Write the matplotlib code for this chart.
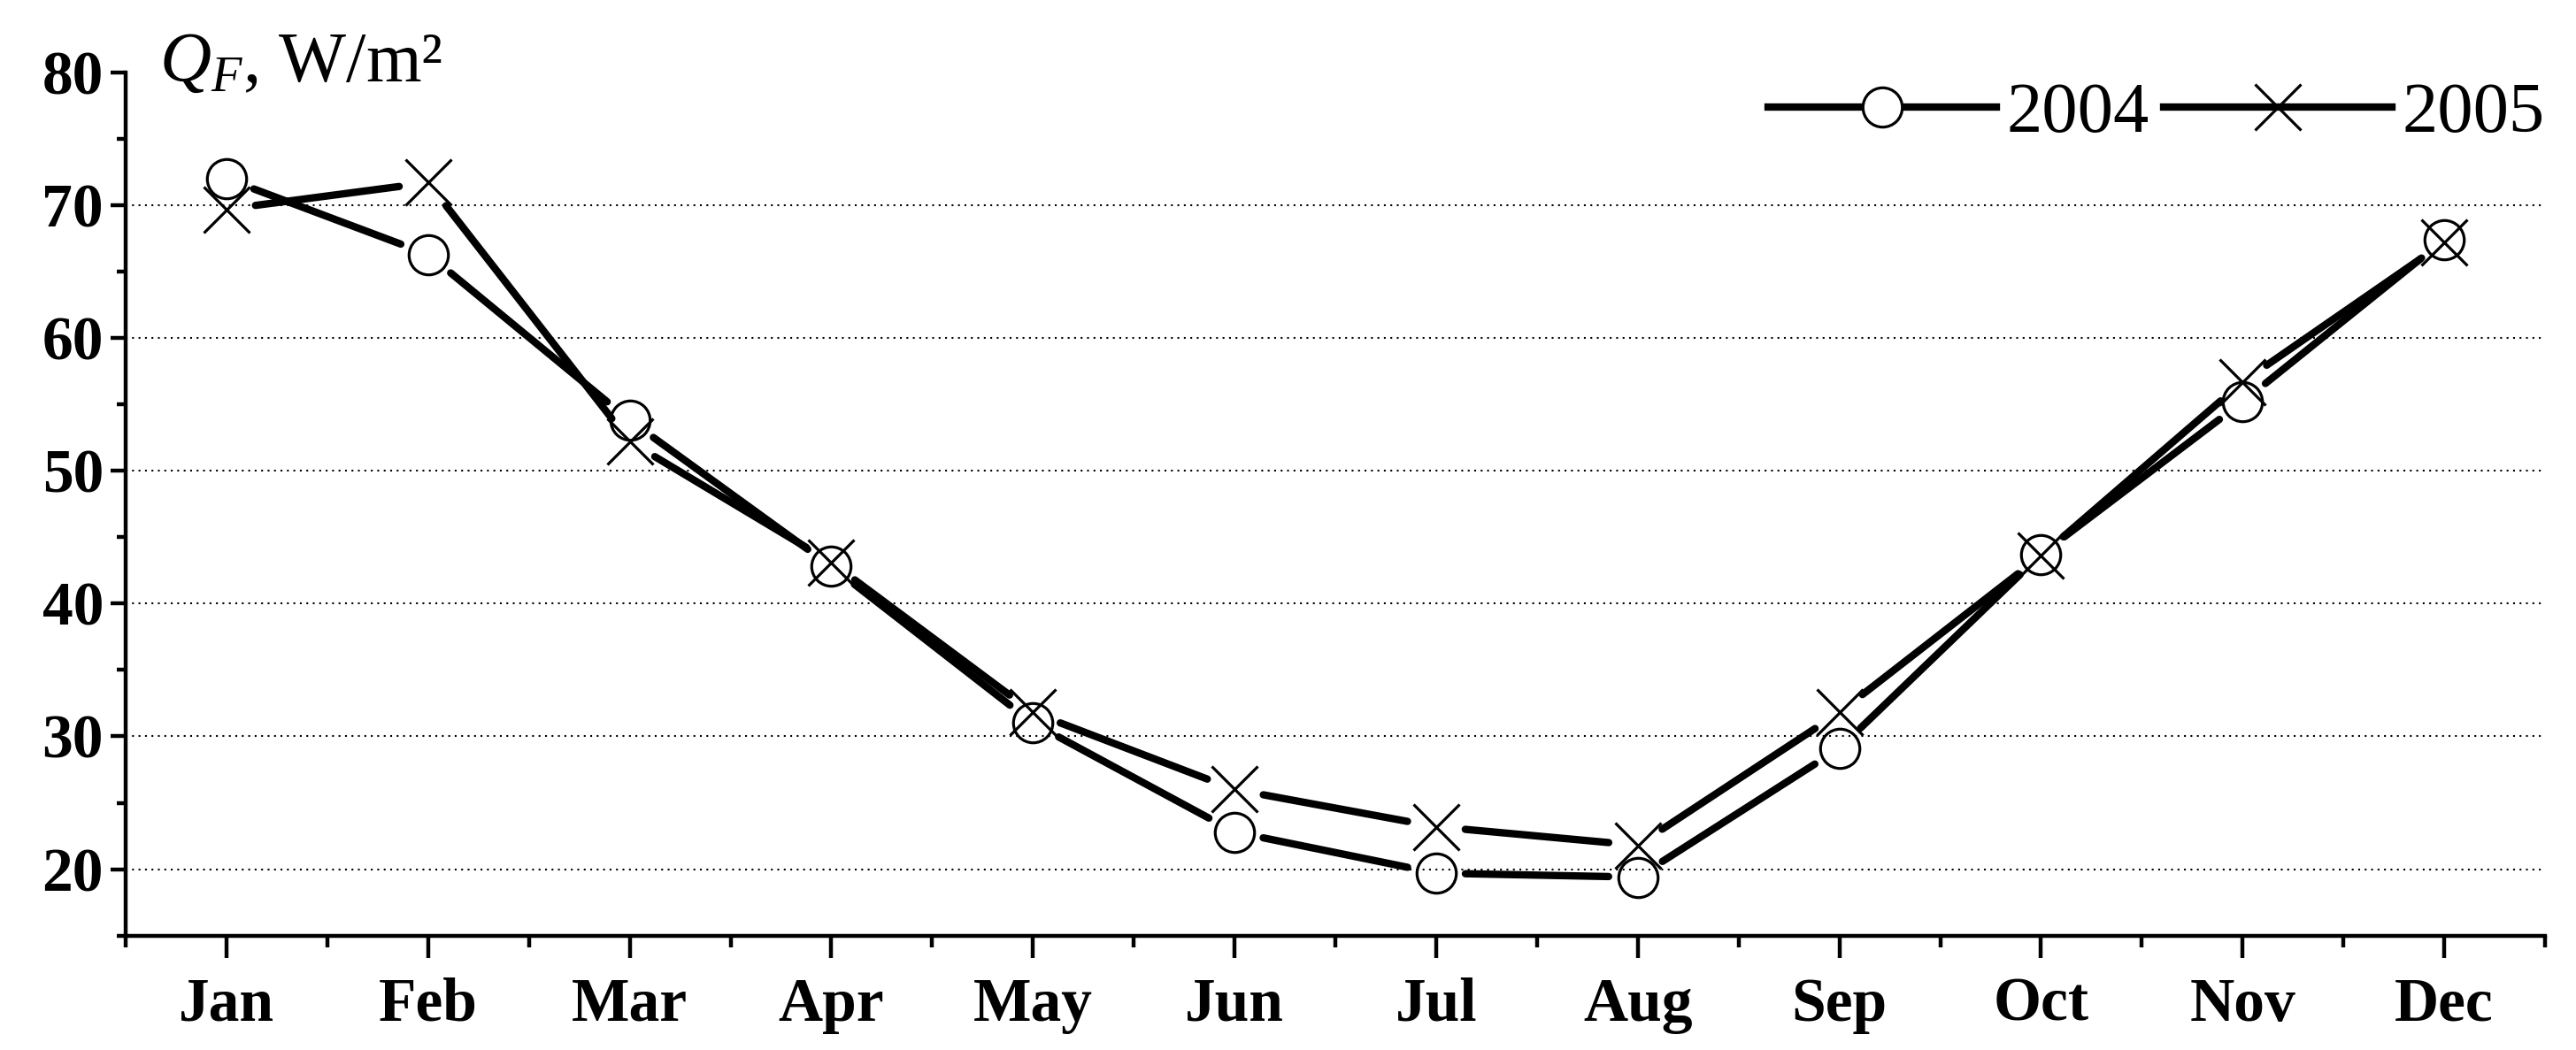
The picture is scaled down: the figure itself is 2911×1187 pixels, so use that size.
import numpy as np
import matplotlib
matplotlib.use("Agg")
import matplotlib.pyplot as plt
from matplotlib.lines import Line2D
from matplotlib.ticker import MultipleLocator

months = ["Jan", "Feb", "Mar", "Apr", "May", "Jun",
          "Jul", "Aug", "Sep", "Oct", "Nov", "Dec"]
qf_2004 = [72.0, 66.3, 53.8, 42.8, 31.0, 22.8, 19.7, 19.4, 29.1, 43.7, 55.2, 67.4]
qf_2005 = [69.7, 71.7, 52.2, 43.1, 31.8, 26.0, 23.2, 21.8, 31.8, 43.6, 56.7, 67.2]
series_labels = ["2004", "2005"]

plt.rcParams["font.family"] = ["Liberation Serif", "DejaVu Serif"]
plt.rcParams["mathtext.fontset"] = "custom"
plt.rcParams["mathtext.rm"] = "Liberation Serif"
plt.rcParams["mathtext.it"] = "Liberation Serif:italic"

DPI = 100
fig = plt.figure(figsize=(29.11, 11.87), dpi=DPI)
ax = fig.add_axes([0.0488, 0.109, 0.9392, 0.822])

x = np.arange(len(months))
ax.set_xlim(-0.5, len(months) - 0.5)
ax.set_ylim(15, 80)

LW = 6.0
GAP = 33  # pixels of space between line ends and markers
MS_O = 32
MS_X = 38
MEW = 2.3


def gapped_line(xs, ys):
    # draw each segment shortened at both ends, in display space
    pts = ax.transData.transform(np.column_stack([xs, ys]))
    inv = ax.transData.inverted()
    for p0, p1 in zip(pts[:-1], pts[1:]):
        d = p1 - p0
        u = d / np.hypot(*d)
        a = inv.transform(p0 + u * GAP)
        b = inv.transform(p1 - u * GAP)
        ax.plot([a[0], b[0]], [a[1], b[1]], color="black", lw=LW,
                solid_capstyle="round", zorder=2)


gapped_line(x, qf_2004)
gapped_line(x, qf_2005)
ax.plot(x, qf_2004, linestyle="none", marker="o", ms=MS_O, mfc="none",
        mec="black", mew=MEW, zorder=3)
ax.plot(x, qf_2005, linestyle="none", marker="x", ms=MS_X,
        mec="black", mew=MEW, zorder=4)

# axes styling
for side in ["top", "right"]:
    ax.spines[side].set_visible(False)
for side in ["left", "bottom"]:
    ax.spines[side].set_linewidth(3.2)

ax.yaxis.set_minor_locator(MultipleLocator(5))
ax.set_yticks(np.arange(20, 81, 10))
ax.set_xticks(x)
ax.set_xticklabels(months)
ax.set_xticks(np.arange(-0.5, len(months), 1.0), minor=True)

ax.tick_params(axis="y", which="major", length=12, width=3.2, labelsize=50, pad=6)
ax.tick_params(axis="y", which="minor", length=7, width=3.2)
ax.tick_params(axis="x", which="major", length=18, width=3.2, labelsize=50, pad=16)
ax.tick_params(axis="x", which="minor", length=9, width=3.2)
for lab in ax.get_xticklabels() + ax.get_yticklabels():
    lab.set_fontweight("bold")

ax.grid(axis="y", which="major", linestyle=(0, (1, 2.5)), color="black", linewidth=1.5)
ax.get_ygridlines()[-1].set_visible(False)
ax.set_axisbelow(True)

fig.text(180 / 2911, 1 - 72 / 1187, r"$Q_F$, W/m²", fontsize=58,
         ha="left", va="center")

handles = [
    Line2D([], [], color="black", lw=LW, marker="o", ms=MS_O, mfc="white",
           mec="black", mew=MEW),
    Line2D([], [], color="black", lw=LW, marker="x", ms=MS_X, mec="black", mew=MEW),
]
ax.legend(handles, series_labels, loc="center right", bbox_to_anchor=(1.0, 0.951),
          ncol=2, frameon=False, fontsize=58, handlelength=3.2,
          handletextpad=0.15, columnspacing=0.2, borderaxespad=0, borderpad=0)

fig.savefig("out.png", dpi=DPI, facecolor="white")
